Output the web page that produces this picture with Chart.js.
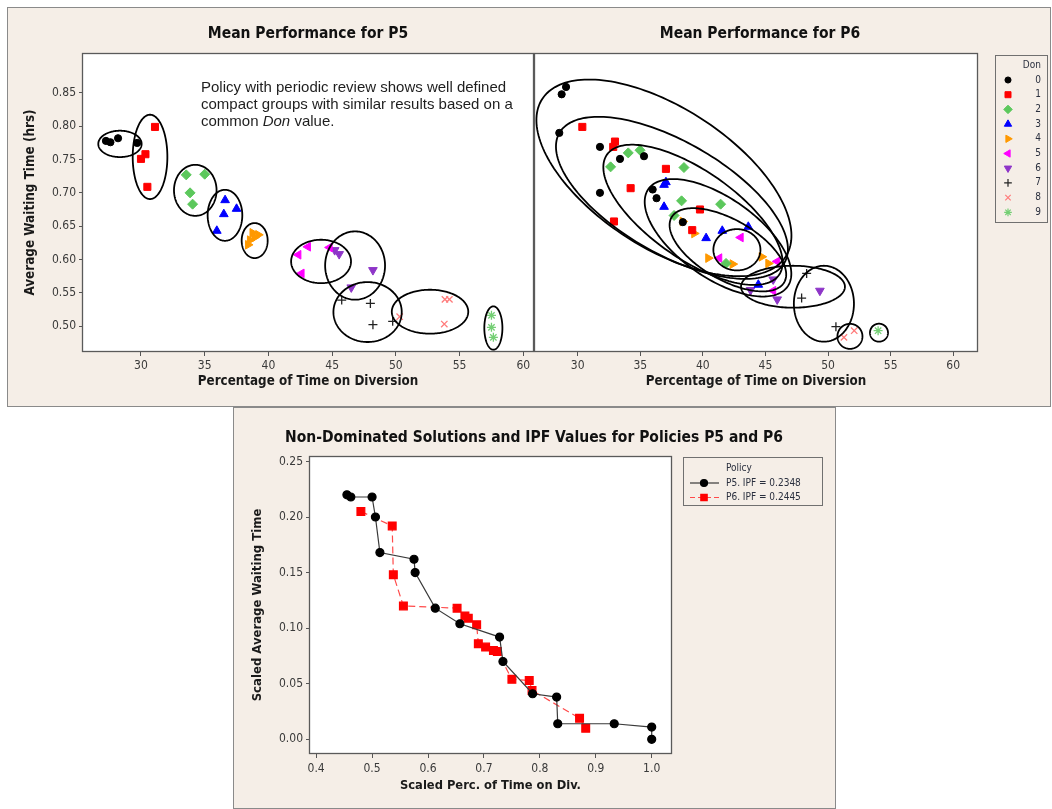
<!DOCTYPE html>
<html><head><meta charset="utf-8"><title>Mean Performance for P5 and P6</title>
<script src="https://cdn.jsdelivr.net/npm/chart.js@4.4.1/dist/chart.umd.min.js"></script>
<style>
html,body{margin:0;padding:0;background:#fff;}
body{width:1052px;height:809px;position:relative;overflow:hidden;}
.panel{position:absolute;background:#f5eee7;border:1px solid #8a8a8a;box-sizing:border-box;}
canvas{position:absolute;left:0;top:0;}
.ttl{position:absolute;font-family:'DejaVu Sans Condensed','DejaVu Sans',sans-serif;font-weight:bold;font-size:15.5px;color:#111;text-align:center;white-space:nowrap;z-index:5;line-height:18px;}
.note{position:absolute;left:201px;top:78px;font-family:'Liberation Sans',Arial,sans-serif;font-size:15px;line-height:17px;color:#1e1e1e;z-index:5;white-space:nowrap;}
</style></head><body>
<div class="panel" style="left:7px;top:7px;width:1044px;height:400px"></div>
<div class="panel" style="left:233px;top:407px;width:603px;height:402px"></div>
<canvas id="c5" width="1052" height="809"></canvas>
<canvas id="c6" width="1052" height="809"></canvas>
<canvas id="cb" width="1052" height="809"></canvas>
<div class="ttl" style="left:158px;top:24px;width:300px">Mean Performance for P5</div>
<div class="ttl" style="left:610px;top:24px;width:300px">Mean Performance for P6</div>
<div class="ttl" style="left:234px;top:428px;width:600px">Non-Dominated Solutions and IPF Values for Policies P5 and P6</div>
<div class="note">Policy with periodic review shows well defined<br>compact groups with similar results based on a<br>common <i>Don</i> value.</div>
<script>
const FONT = "'DejaVu Sans Condensed', 'DejaVu Sans', sans-serif";

// ---------- data ----------
const donLabels = ['0','1','2','3','4','5','6','7','8','9'];

// Policy P5: % time on diversion (x) and average waiting time (y), one list per Don value
const p5X = [
  [27.25, 27.6, 28.2, 29.7],
  [31.1, 30.35, 30.0, 30.5],
  [33.55, 35.0, 33.85, 34.05],
  [36.6, 37.5, 36.5, 35.95],
  [38.75, 39.2, 38.9, 38.55, 38.4],
  [42.35, 42.6, 43.1, 44.8],
  [45.2, 45.55, 48.2, 46.5],
  [45.75, 48.0, 48.2, 49.75],
  [50.3, 53.85, 54.2, 53.8],
  [57.5, 57.5, 57.65]
];
const p5Y = [
  [0.778, 0.776, 0.782, 0.775],
  [0.799, 0.758, 0.751, 0.709],
  [0.727, 0.728, 0.700, 0.683],
  [0.689, 0.676, 0.668, 0.643],
  [0.640, 0.637, 0.633, 0.629, 0.622],
  [0.607, 0.579, 0.619, 0.618],
  [0.614, 0.608, 0.584, 0.558],
  [0.539, 0.534, 0.502, 0.507],
  [0.514, 0.540, 0.540, 0.503],
  [0.516, 0.498, 0.483]
];

// Policy P6
const p6X = [
  [29.07, 28.72, 28.53, 31.78, 33.38, 35.3, 31.78, 35.99, 36.3, 38.4],
  [30.37, 32.98, 32.84, 37.05, 34.23, 32.9, 39.77, 39.15],
  [34.04, 34.98, 32.63, 38.49, 38.3, 41.42, 37.7, 41.85],
  [37.05, 36.9, 36.9, 40.26, 41.55, 43.63, 44.43],
  [38.39, 39.31, 40.43, 42.38, 44.7, 45.23],
  [43.02, 41.31, 45.94, 45.62],
  [43.81, 45.62, 45.94, 49.35],
  [48.29, 47.89, 50.63],
  [51.27, 52.09],
  [54.0]
];
const p6Y = [
  [0.859, 0.848, 0.790, 0.769, 0.751, 0.755, 0.700, 0.705, 0.692, 0.656],
  [0.799, 0.777, 0.769, 0.736, 0.707, 0.657, 0.675, 0.644],
  [0.760, 0.764, 0.739, 0.738, 0.688, 0.683, 0.666, 0.594],
  [0.716, 0.712, 0.679, 0.632, 0.643, 0.649, 0.562],
  [0.657, 0.639, 0.602, 0.593, 0.604, 0.594],
  [0.633, 0.602, 0.597, 0.553],
  [0.554, 0.570, 0.540, 0.553],
  [0.579, 0.542, 0.499],
  [0.483, 0.493],
  [0.493]
];

// group ellipses in data units: [centerX, centerY, axis1dX, axis1dY, axis2dX, axis2dY]
const p5Groups = [
  [28.35, 0.7735, 1.70, 0, 0, 0.0198],
  [30.71, 0.754, 1.36, 0, 0, 0.0633],
  [34.26, 0.7038, 1.67, 0, 0, 0.0383],
  [36.59, 0.6663, 1.36, 0, 0, 0.0383],
  [38.92, 0.6283, 1.02, 0, 0, 0.0263],
  [44.13, 0.597, 2.35, 0, 0, 0.0326],
  [46.8, 0.5908, 2.35, 0, 0, 0.0513],
  [47.78, 0.521, 2.68, 0, 0, 0.045],
  [52.68, 0.5215, 3.0, 0, 0, 0.033],
  [57.65, 0.497, 0.71, 0, 0, 0.0326]
];
const p6Groups = [
  [36.89, 0.7225, 9.72, -0.1185, -3.05, -0.0881],
  [37.53, 0.6925, 8.99, -0.0975, -2.24, -0.0728],
  [39.21, 0.667, 6.87, -0.0904, -2.02, -0.054],
  [41.21, 0.6325, 5.56, -0.0732, -1.84, -0.0492],
  [42.0, 0.6145, 4.5, -0.0488, -1.2, -0.039],
  [42.72, 0.6145, 1.88, 0, 0, 0.031],
  [47.2, 0.559, 4.15, 0, 0, 0.0315],
  [49.67, 0.5335, 2.4, 0, 0, 0.057],
  [51.75, 0.4845, 1.0, 0, 0, 0.0188],
  [54.07, 0.49, 0.72, 0, 0, 0.0135]
];

const divTicks = [30, 35, 40, 45, 50, 55, 60];
const waitTicks = [0.50, 0.55, 0.60, 0.65, 0.70, 0.75, 0.80, 0.85];

// non-dominated solutions (scaled)
const policyNames = ['P5. IPF = 0.2348', 'P6. IPF = 0.2445'];
const p5FrontX = [0.455, 0.462, 0.500, 0.506, 0.514, 0.575, 0.577, 0.613, 0.657, 0.728, 0.734, 0.787, 0.830, 0.832, 0.933, 1.000, 1.000];
const p5FrontY = [0.220, 0.218, 0.218, 0.200, 0.168, 0.162, 0.150, 0.118, 0.104, 0.092, 0.070, 0.041, 0.038, 0.014, 0.014, 0.011, 0.000];
const p6FrontX = [0.480, 0.536, 0.538, 0.556, 0.652, 0.666, 0.672, 0.687, 0.690, 0.703, 0.717, 0.724, 0.750, 0.781, 0.786, 0.871, 0.882];
const p6FrontY = [0.205, 0.192, 0.148, 0.120, 0.118, 0.111, 0.109, 0.103, 0.086, 0.083, 0.080, 0.079, 0.054, 0.053, 0.044, 0.019, 0.010];
const scaledDivTicks = [0.4, 0.5, 0.6, 0.7, 0.8, 0.9, 1.0];
const scaledWaitTicks = [0.00, 0.05, 0.10, 0.15, 0.20, 0.25];

// ---------- styles ----------
const donColors = ['#000000', '#ff0000', '#5cc85c', '#0000ff', '#ff9900', '#ff00ff', '#8e35c8', '#222222', '#ff7b7b', '#74cf74'];
const donStyles = ['circle', 'rect', 'rectRot', 'triangle', 'triangle', 'triangle', 'triangle', 'cross', 'crossRot', 'star'];
const donRot = [0, 0, 0, 0, 90, -90, 180, 0, 0, 0];
const donRadius = [3.6, 5, 5, 5, 5, 5, 5, 4.5, 4.5, 4.5];

Chart.defaults.font.family = FONT;

function donDatasets(X, Y) {
  return donLabels.map((lab, i) => ({
    label: lab,
    data: X[i].map((x, j) => ({x: x, y: Y[i][j]})),
    pointStyle: donStyles[i],
    pointRotation: donRot[i],
    pointRadius: donRadius[i],
    pointBackgroundColor: donColors[i],
    pointBorderColor: donColors[i],
    pointBorderWidth: i >= 7 ? 1.3 : 1,
    showLine: false
  }));
}

function frame() {
  return {
    id: 'frame',
    beforeDraw(c) {
      const a = c.chartArea, ctx = c.ctx;
      ctx.save(); ctx.fillStyle = '#ffffff';
      ctx.fillRect(a.left, a.top, a.right - a.left, a.bottom - a.top);
      ctx.restore();
    },
    afterDraw(c) {
      const a = c.chartArea, ctx = c.ctx;
      ctx.save(); ctx.strokeStyle = '#5a5a5a'; ctx.lineWidth = 1.3;
      ctx.strokeRect(a.left - 0.5, a.top - 0.5, a.right - a.left + 1, a.bottom - a.top + 1);
      ctx.restore();
    }
  };
}

function groupEllipses(list) {
  return {
    id: 'groups',
    afterDatasetsDraw(c) {
      const xs = c.scales.x, ys = c.scales.y, ctx = c.ctx, a = c.chartArea;
      ctx.save();
      ctx.beginPath(); ctx.rect(a.left, a.top, a.right - a.left, a.bottom - a.top); ctx.clip();
      ctx.strokeStyle = '#000'; ctx.lineWidth = 1.8;
      list.forEach(e => {
        ctx.beginPath();
        for (let k = 0; k <= 180; k++) {
          const t = k / 180 * Math.PI * 2;
          const vx = e[0] + Math.cos(t) * e[2] + Math.sin(t) * e[4];
          const vy = e[1] + Math.cos(t) * e[3] + Math.sin(t) * e[5];
          const px = xs.getPixelForValue(vx), py = ys.getPixelForValue(vy);
          if (k === 0) ctx.moveTo(px, py); else ctx.lineTo(px, py);
        }
        ctx.closePath(); ctx.stroke();
      });
      ctx.restore();
    }
  };
}

function xAxis(min, max, ticks, dec, title, height, tickPad, titlePad, titleSize) {
  return {
    type: 'linear', position: 'bottom', min: min, max: max,
    afterBuildTicks: s => { s.ticks = ticks.map(v => ({value: v})); },
    afterFit: s => { s.height = height; },
    ticks: {font: {family: FONT, size: 12}, color: '#3a3a3a', padding: tickPad, maxRotation: 0, autoSkip: false,
            callback: v => Number(v).toFixed(dec)},
    grid: {drawOnChartArea: false, drawTicks: true, tickLength: 5, color: '#555', tickColor: '#555', tickWidth: 1},
    border: {display: false},
    title: {display: true, text: title, color: '#1a1a1a', font: {family: FONT, size: titleSize, weight: 'bold'},
            padding: {top: 0, bottom: titlePad}}
  };
}
function yAxis(min, max, ticks, dec, title, width, show, titleSize) {
  return {
    type: 'linear', position: 'left', min: min, max: max, display: show,
    afterBuildTicks: s => { s.ticks = ticks.map(v => ({value: v})); },
    afterFit: s => { if (show) s.width = width; },
    ticks: {font: {family: FONT, size: 12}, color: '#3a3a3a', padding: 3, autoSkip: false,
            callback: v => Number(v).toFixed(dec)},
    grid: {drawOnChartArea: false, drawTicks: true, tickLength: 4, color: '#555', tickColor: '#555', tickWidth: 1},
    border: {display: false},
    title: {display: true, text: title, color: '#1a1a1a', font: {family: FONT, size: titleSize, weight: 'bold'},
            padding: {top: 0, bottom: 0}}
  };
}

const base = {
  responsive: false, animation: false, devicePixelRatio: 1, events: [],
  plugins: {legend: {display: false}, tooltip: {enabled: false}, title: {display: false}}
};

// ---------- P5 ----------
new Chart(document.getElementById('c5'), {
  type: 'scatter',
  data: {datasets: donDatasets(p5X, p5Y)},
  options: Object.assign({}, base, {
    layout: {padding: {left: 22, top: 54, right: 519, bottom: 418}},
    scales: {
      x: xAxis(25.45, 60.76, divTicks, 0, 'Percentage of Time on Diversion', 40, 3, 1, 13.3),
      y: yAxis(0.4625, 0.9085, waitTicks, 2, 'Average Waiting Time (hrs)', 61, true, 13.4)
    }
  }),
  plugins: [frame(), groupEllipses(p5Groups)]
});

// ---------- P6 ----------
const donLegend = {
  id: 'donLegend',
  afterDraw(c) {
    const ctx = c.ctx;
    ctx.save();
    ctx.strokeStyle = '#707070'; ctx.lineWidth = 1;
    ctx.strokeRect(995.5, 55.5, 52, 167);
    ctx.font = "10px " + FONT; ctx.fillStyle = '#2a2f3e';
    ctx.textAlign = 'right'; ctx.textBaseline = 'middle';
    ctx.fillText('Don', 1041, 65);
    donLabels.forEach((lab, i) => {
      const y = 80 + i * 14.7;
      ctx.fillStyle = '#2a2f3e';
      ctx.fillText(lab, 1041, y);
      ctx.fillStyle = donColors[i]; ctx.strokeStyle = donColors[i]; ctx.lineWidth = i >= 7 ? 1.2 : 1;
      Chart.helpers.drawPoint(ctx, {pointStyle: donStyles[i], rotation: donRot[i], radius: donRadius[i] * 0.85, borderWidth: ctx.lineWidth}, 1008, y);
    });
    ctx.restore();
  }
};
new Chart(document.getElementById('c6'), {
  type: 'scatter',
  data: {datasets: donDatasets(p6X, p6Y)},
  options: Object.assign({}, base, {
    layout: {padding: {left: 535, top: 54, right: 75, bottom: 418}},
    scales: {
      x: xAxis(26.59, 61.9, divTicks, 0, 'Percentage of Time on Diversion', 40, 3, 1, 13.3),
      y: yAxis(0.4625, 0.9085, waitTicks, 2, '', 0, false, 12)
    }
  }),
  plugins: [frame(), groupEllipses(p6Groups), donLegend]
});

// ---------- non-dominated front ----------
const policyColors = ['#000000', '#ff0000'];
const policyLine = ['#3a3a3a', '#ff4a4a'];
const policyStyles = ['circle', 'rect'];
const policyLegend = {
  id: 'policyLegend',
  afterDraw(c) {
    const ctx = c.ctx;
    ctx.save();
    ctx.strokeStyle = '#707070'; ctx.lineWidth = 1;
    ctx.strokeRect(683.5, 457.5, 139, 48);
    ctx.font = "10px " + FONT; ctx.fillStyle = '#2a2f3e';
    ctx.textAlign = 'left'; ctx.textBaseline = 'middle';
    ctx.fillText('Policy', 726, 468);
    policyNames.forEach((n, i) => {
      const y = 483 + i * 14.5;
      ctx.strokeStyle = policyLine[i]; ctx.lineWidth = 1.2;
      ctx.setLineDash(i ? [5, 3] : []);
      ctx.beginPath(); ctx.moveTo(690, y); ctx.lineTo(719, y); ctx.stroke();
      ctx.setLineDash([]);
      ctx.fillStyle = policyColors[i]; ctx.strokeStyle = policyColors[i];
      Chart.helpers.drawPoint(ctx, {pointStyle: policyStyles[i], rotation: 0, radius: i ? 4.5 : 3.5, borderWidth: 1}, 704, y);
      ctx.fillStyle = '#2a2f3e';
      ctx.fillText(n, 726, y);
    });
    ctx.restore();
  }
};
new Chart(document.getElementById('cb'), {
  type: 'scatter',
  data: {datasets: [
    {label: policyNames[0], data: p5FrontX.map((x, i) => ({x: x, y: p5FrontY[i]})), showLine: true,
     borderColor: policyLine[0], borderWidth: 1.2, pointStyle: 'circle', pointRadius: 4,
     pointBackgroundColor: policyColors[0], pointBorderColor: policyColors[0]},
    {label: policyNames[1], data: p6FrontX.map((x, i) => ({x: x, y: p6FrontY[i]})), showLine: true,
     borderColor: policyLine[1], borderWidth: 1.2, borderDash: [7, 4], pointStyle: 'rect', pointRadius: 5.5,
     pointBackgroundColor: policyColors[1], pointBorderColor: policyColors[1]}
  ]},
  options: Object.assign({}, base, {
    layout: {padding: {left: 250, top: 457, right: 381, bottom: 16}},
    scales: {
      x: xAxis(0.389, 1.0345, scaledDivTicks, 1, 'Scaled Perc. of Time on Div.', 40, 4, 0, 12.8),
      y: yAxis(-0.0123, 0.254, scaledWaitTicks, 2, 'Scaled Average Waiting Time', 60, true, 13)
    }
  }),
  plugins: [frame(), policyLegend]
});
</script>
</body></html>
